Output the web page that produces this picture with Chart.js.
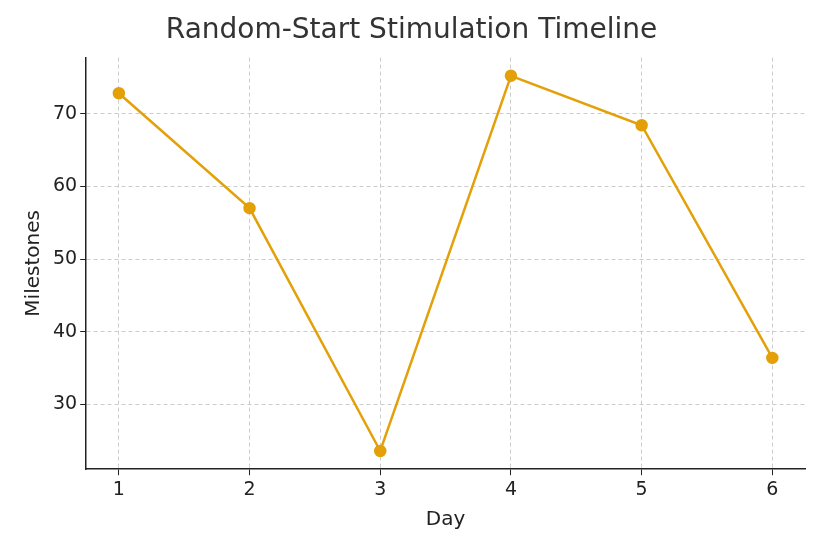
<!DOCTYPE html>
<html><head><meta charset="utf-8">
<script src="https://cdn.jsdelivr.net/npm/chart.js@4"></script>
<style>html,body{margin:0;padding:0;background:#fff}#w{width:825px;height:550px}</style>
</head><body><div id="w"><canvas id="c"></canvas></div>
<script>
const days = [1, 2, 3, 4, 5, 6];
const milestones = [72.8, 57.0, 23.6, 75.2, 68.4, 36.4];
const xTicks = [1, 2, 3, 4, 5, 6];
const yTicks = [30, 40, 50, 60, 70];
const font = "'DejaVu Sans', sans-serif";
new Chart(document.getElementById('c'), {
  type: 'line',
  data: { datasets: [{
    data: days.map((d, i) => ({x: d, y: milestones[i]})),
    borderColor: '#E3A008', backgroundColor: '#E3A008',
    borderWidth: 2.5, pointRadius: 5, pointHoverRadius: 5, tension: 0
  }]},
  options: {
    responsive: true, maintainAspectRatio: false, animation: false,
    layout: { padding: { left: 18, right: 20, top: 10, bottom: 14 } },
    plugins: {
      legend: { display: false },
      title: { display: true, text: 'Random-Start Stimulation Timeline', color: '#333', font: { family: font, size: 28, weight: 'normal' }, padding: { top: 4, bottom: 10 } }
    },
    scales: {
      x: { type: 'linear', min: 0.75, max: 6.25,
        afterBuildTicks: ax => { ax.ticks = xTicks.map(v => ({value: v})); },
        title: { display: true, text: 'Day', color: '#222', font: { family: font, size: 20 } },
        ticks: { color: '#222', font: { family: font, size: 19 } },
        grid: { color: '#ccc', tickColor: '#222', tickLength: 6 },
        border: { display: true, color: '#222', width: 1.5, dash: [4, 3] }
      },
      y: { min: 21.1, max: 77.7,
        afterBuildTicks: ax => { ax.ticks = yTicks.map(v => ({value: v})); },
        title: { display: true, text: 'Milestones', color: '#222', font: { family: font, size: 20 } },
        ticks: { color: '#222', font: { family: font, size: 19 } },
        grid: { color: '#ccc', tickColor: '#222', tickLength: 6 },
        border: { display: true, color: '#222', width: 1.5, dash: [4, 3] }
      }
    }
  }
});
</script></body></html>
